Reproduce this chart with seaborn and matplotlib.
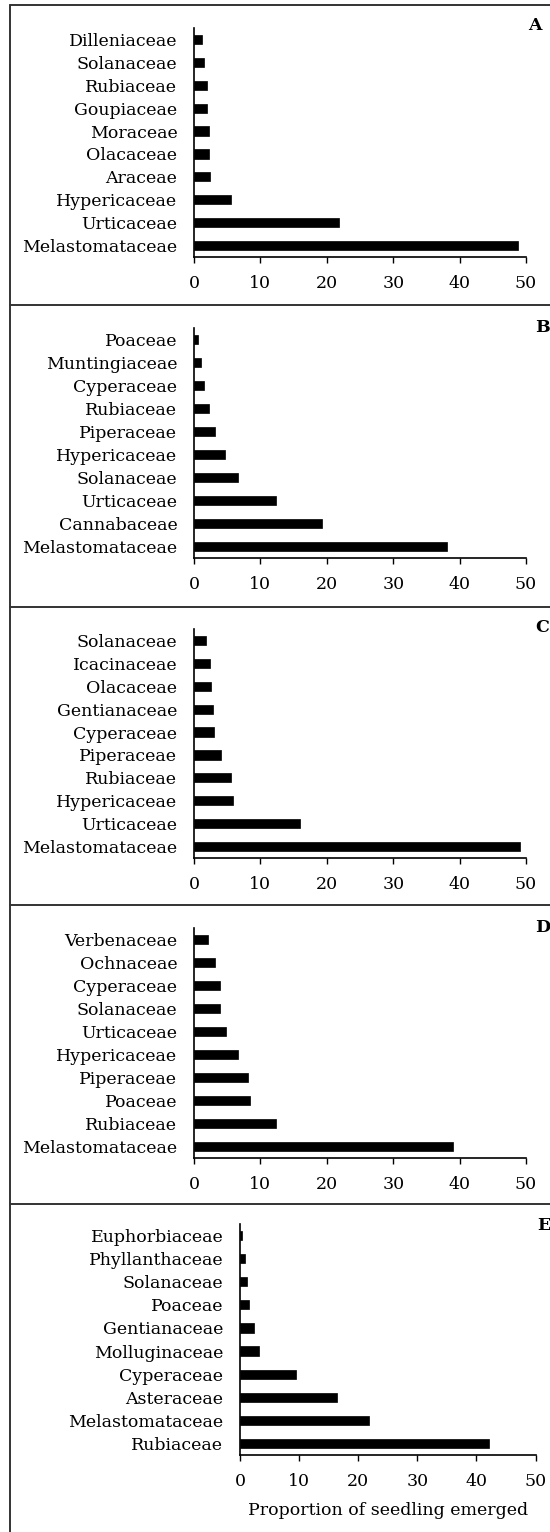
import matplotlib
matplotlib.use("Agg")
import matplotlib.pyplot as plt
import seaborn as sns
import pandas as pd
from matplotlib.lines import Line2D

# ---- data ----
fam_a = ["Dilleniaceae", "Solanaceae", "Rubiaceae", "Goupiaceae", "Moraceae",
         "Olacaceae", "Araceae", "Hypericaceae", "Urticaceae", "Melastomataceae"]
val_a = [1.2, 1.5, 1.9, 2.0, 2.2, 2.3, 2.4, 5.6, 21.8, 48.8]

fam_b = ["Poaceae", "Muntingiaceae", "Cyperaceae", "Rubiaceae", "Piperaceae",
         "Hypericaceae", "Solanaceae", "Urticaceae", "Cannabaceae", "Melastomataceae"]
val_b = [0.6, 1.0, 1.45, 2.2, 3.2, 4.6, 6.7, 12.3, 19.3, 38.1]

fam_c = ["Solanaceae", "Icacinaceae", "Olacaceae", "Gentianaceae", "Cyperaceae",
         "Piperaceae", "Rubiaceae", "Hypericaceae", "Urticaceae", "Melastomataceae"]
val_c = [1.8, 2.4, 2.6, 2.8, 3.0, 4.1, 5.5, 5.9, 16.0, 49.1]

fam_d = ["Verbenaceae", "Ochnaceae", "Cyperaceae", "Solanaceae", "Urticaceae",
         "Hypericaceae", "Piperaceae", "Poaceae", "Rubiaceae", "Melastomataceae"]
val_d = [2.1, 3.2, 3.9, 3.9, 4.8, 6.6, 8.1, 8.4, 12.4, 39.0]

fam_e = ["Euphorbiaceae", "Phyllanthaceae", "Solanaceae", "Poaceae", "Gentianaceae",
         "Molluginaceae", "Cyperaceae", "Asteraceae", "Melastomataceae", "Rubiaceae"]
val_e = [0.36, 0.9, 1.2, 1.6, 2.3, 3.2, 9.5, 16.4, 21.9, 42.1]

panel_letters = ["A", "B", "C", "D", "E"]
x_ticks = [0, 10, 20, 30, 40, 50]
x_label = "Proportion of seedling emerged"

# ---- style ----
sns.set_style("white")
plt.rcParams["font.family"] = ["DejaVu Serif"]
plt.rcParams["text.color"] = "black"
plt.rcParams["axes.labelcolor"] = "black"
plt.rcParams["xtick.color"] = "black"
plt.rcParams["ytick.color"] = "black"
FS = 12.5

W, H = 550, 1532
fig = plt.figure(figsize=(W / 100, H / 100), dpi=100)

# axes boxes in pixel coords: (left, right, top, bottom)
boxes = [
    (194, 526, 28, 257),
    (194, 526, 328, 558),
    (194, 526, 629, 858),
    (194, 526, 928, 1158),
    (240, 535.6, 1224, 1455),
]
letter_pos = [(535, 26), (542, 328), (542, 627), (543, 927), (544, 1225)]

panels = [(fam_a, val_a), (fam_b, val_b), (fam_c, val_c), (fam_d, val_d), (fam_e, val_e)]

for i, ((fams, vals), (l, r, t, b)) in enumerate(zip(panels, boxes)):
    ax = fig.add_axes([l / W, 1 - b / H, (r - l) / W, (b - t) / H])
    df = pd.DataFrame({"family": fams, "value": vals})
    sns.barplot(data=df, x="value", y="family", orient="h", color="black",
                width=0.4, ax=ax, saturation=1, edgecolor="black", linewidth=0.5)
    ax.set_xlim(0, 50)
    ax.set_ylim(len(fams) - 0.5, -0.5)
    ax.set_xticks(x_ticks)
    ax.set_xticklabels([str(v) for v in x_ticks])
    ax.tick_params(axis="x", which="major", direction="out", length=4.3,
                   width=1, color="black", pad=8.5, labelsize=FS, bottom=True,
                   labelcolor="black")
    ax.tick_params(axis="y", length=0, pad=12, labelsize=FS, labelcolor="black")
    for s in ["top", "right"]:
        ax.spines[s].set_visible(False)
    for s in ["left", "bottom"]:
        ax.spines[s].set_color("black")
        ax.spines[s].set_linewidth(1.2)
    ax.set_ylabel("")
    if i == 4:
        ax.set_xlabel(x_label, fontsize=FS, labelpad=9, color="black")
    else:
        ax.set_xlabel("")
    lx, ly = letter_pos[i]
    fig.text(lx / W, 1 - ly / H, panel_letters[i], ha="center", va="center",
             fontsize=FS, fontweight="bold", color="black")

# frame lines
lc = "#333333"
lw = 1.4
fig.add_artist(Line2D([10 / W, 10 / W], [1 - 5 / H, 0], color=lc, lw=lw,
                      transform=fig.transFigure))
for y in [5, 305, 607, 905, 1204]:
    fig.add_artist(Line2D([10 / W, 1], [1 - y / H, 1 - y / H], color=lc, lw=lw,
                          transform=fig.transFigure))

fig.savefig("out.png", dpi=100)
